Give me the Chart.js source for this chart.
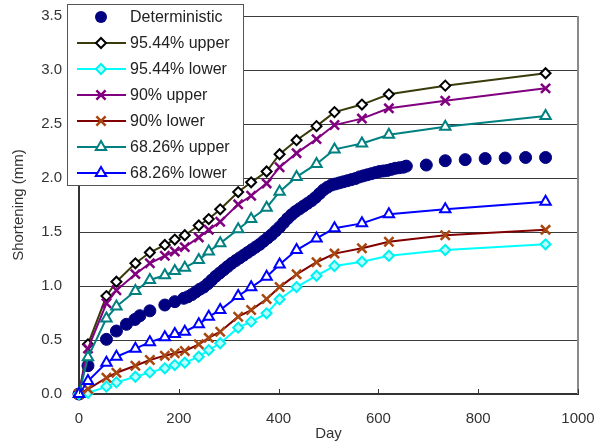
<!DOCTYPE html>
<html lang="en">
<head>
  <meta charset="UTF-8">
  <title>Shortening vs Day</title>
  <script src="https://cdn.jsdelivr.net/npm/chart.js"></script>
  <style>
    body { margin: 0; background: #fff; }
    #wrap { width: 604px; height: 446px; position: relative; }
  </style>
</head>
<body>
  <div id="wrap"><canvas id="chart" width="604" height="446"></canvas></div>

  <script>
    // days shared by the confidence band series
    const bandDays = [0, 18, 55, 75, 113, 142, 172, 192, 212, 240, 260, 283, 319, 345, 376, 402, 436, 476, 512, 567, 621, 734, 935];

    const upper9544 = [0, 0.46, 0.907, 1.04, 1.21, 1.31, 1.38, 1.43, 1.47, 1.56, 1.62, 1.71, 1.87, 1.96, 2.06, 2.22, 2.35, 2.48, 2.61, 2.68, 2.775, 2.855, 2.97];
    const lower9544 = [0, 0.01, 0.068, 0.108, 0.16, 0.20, 0.238, 0.268, 0.29, 0.345, 0.407, 0.47, 0.614, 0.67, 0.747, 0.877, 0.99, 1.095, 1.185, 1.225, 1.28, 1.333, 1.386];
    const upper90 = [0, 0.42, 0.84, 0.96, 1.11, 1.21, 1.28, 1.32, 1.36, 1.45, 1.52, 1.595, 1.756, 1.836, 1.95, 2.10, 2.23, 2.36, 2.49, 2.55, 2.645, 2.716, 2.83];
    const lower90 = [0, 0.046, 0.15, 0.197, 0.262, 0.315, 0.355, 0.377, 0.398, 0.46, 0.52, 0.577, 0.716, 0.777, 0.88, 0.99, 1.108, 1.22, 1.30, 1.35, 1.41, 1.47, 1.52];
    const upper6826 = [0, 0.34, 0.70, 0.81, 0.954, 1.056, 1.10, 1.14, 1.17, 1.24, 1.32, 1.395, 1.525, 1.62, 1.725, 1.873, 2.01, 2.13, 2.265, 2.32, 2.40, 2.475, 2.574];
    const lower6826 = [0, 0.12, 0.29, 0.345, 0.42, 0.48, 0.525, 0.555, 0.577, 0.645, 0.716, 0.777, 0.907, 0.988, 1.086, 1.20, 1.333, 1.44, 1.534, 1.58, 1.664, 1.71, 1.78];

    // deterministic run (dense output)
    const detDays = [0, 18, 55, 75, 95, 112, 122, 142, 172, 192, 210,
      218, 226, 234, 242, 250, 258, 266, 274, 282, 290, 298, 306, 314, 322, 330, 338, 346, 354, 362, 370,
      378, 386, 394, 402, 410, 418, 426, 434, 442, 450, 458, 466, 474, 482, 490, 498, 506, 514, 522, 530,
      538, 546, 554, 562, 570, 578, 586, 594, 602, 610, 618, 626, 634, 642, 650, 656,
      696, 734, 774, 814, 854, 895, 935];
    const detValues = [0, 0.262, 0.506, 0.583, 0.645, 0.69, 0.725, 0.77, 0.824, 0.855, 0.886,
      0.90, 0.92, 0.945, 0.97, 0.99, 1.02, 1.055, 1.09, 1.12, 1.15, 1.18, 1.21, 1.235, 1.26, 1.285, 1.31, 1.335, 1.36, 1.385, 1.415,
      1.445, 1.475, 1.51, 1.545, 1.585, 1.625, 1.66, 1.69, 1.715, 1.74, 1.765, 1.79, 1.82, 1.855, 1.89, 1.915, 1.935, 1.945, 1.955, 1.965,
      1.975, 1.985, 1.995, 2.01, 2.02, 2.03, 2.04, 2.05, 2.06, 2.065, 2.07, 2.08, 2.09, 2.095, 2.10, 2.11,
      2.12, 2.16, 2.17, 2.18, 2.185, 2.19, 2.19];

    const xTicks = [0, 200, 400, 600, 800, 1000];
    const yTicks = [0, 0.5, 1.0, 1.5, 2.0, 2.5, 3.0, 3.5];

    const FONT = "'Liberation Sans', Arial, sans-serif";

    function pts(xs, ys) {
      return xs.map((x, i) => ({ x: x, y: ys[i] }));
    }

    // legend entries, same styling as the datasets
    const series = [
      { label: 'Deterministic', data: pts(detDays, detValues), line: null, style: 'circle', r: 6, stroke: '#000080', fill: '#000080', lw: 1 },
      { label: '95.44% upper', data: pts(bandDays, upper9544), line: '#3a3a0a', style: 'rectRot', r: 5, stroke: '#000000', fill: '#ffffff', lw: 2 },
      { label: '95.44% lower', data: pts(bandDays, lower9544), line: '#00ffff', style: 'rectRot', r: 5, stroke: '#00f0f0', fill: '#b8ffff', lw: 2 },
      { label: '90% upper', data: pts(bandDays, upper90), line: '#800080', style: 'crossRot', r: 6.5, stroke: '#800080', fill: '#800080', lw: 2.5 },
      { label: '90% lower', data: pts(bandDays, lower90), line: '#800000', style: 'crossRot', r: 6.5, stroke: '#a8460f', fill: '#a8460f', lw: 2.5 },
      { label: '68.26% upper', data: pts(bandDays, upper6826), line: '#008080', style: 'triangle', r: 6, stroke: '#008080', fill: '#ffffff', lw: 2 },
      { label: '68.26% lower', data: pts(bandDays, lower6826), line: '#0000ff', style: 'triangle', r: 6, stroke: '#0000ff', fill: '#ffffff', lw: 2 }
    ];

    const datasets = series.map((s, i) => ({
      label: s.label,
      data: s.data,
      showLine: s.line !== null,
      borderColor: s.line || s.stroke,
      borderWidth: 2,
      pointStyle: s.style,
      pointRadius: s.r,
      pointBorderColor: s.stroke,
      pointBackgroundColor: s.fill,
      pointBorderWidth: s.lw,
      clip: 8,
      order: series.length - i
    }));

    function drawMarker(ctx, s, x, y) {
      ctx.save();
      ctx.lineWidth = s.lw;
      ctx.strokeStyle = s.stroke;
      ctx.fillStyle = s.fill;
      ctx.beginPath();
      const r = s.r;
      if (s.style === 'circle') {
        ctx.arc(x, y, r, 0, Math.PI * 2);
        ctx.fill();
      } else if (s.style === 'rectRot') {
        ctx.moveTo(x, y - r); ctx.lineTo(x + r, y); ctx.lineTo(x, y + r); ctx.lineTo(x - r, y); ctx.closePath();
        ctx.fill(); ctx.stroke();
      } else if (s.style === 'crossRot') {
        const d = r * Math.SQRT1_2;
        ctx.moveTo(x - d, y - d); ctx.lineTo(x + d, y + d);
        ctx.moveTo(x + d, y - d); ctx.lineTo(x - d, y + d);
        ctx.stroke();
      } else if (s.style === 'triangle') {
        for (let k = 0; k < 3; k++) {
          const a = k * 2 * Math.PI / 3;
          const px = x + Math.sin(a) * r, py = y - Math.cos(a) * r;
          if (k === 0) ctx.moveTo(px, py); else ctx.lineTo(px, py);
        }
        ctx.closePath();
        ctx.fill(); ctx.stroke();
      }
      ctx.restore();
    }

    const framePlugin = {
      id: 'frame',
      afterDraw(chart) {
        const ctx = chart.ctx;
        const area = chart.chartArea;
        const xs = chart.scales.x;

        // right border
        ctx.save();
        ctx.strokeStyle = '#8a8a8a';
        ctx.lineWidth = 2;
        ctx.beginPath();
        ctx.moveTo(area.right, area.top);
        ctx.lineTo(area.right, area.bottom);
        ctx.stroke();

        // inward tick marks on the x axis
        ctx.strokeStyle = '#333';
        ctx.lineWidth = 1;
        xTicks.forEach(v => {
          const px = Math.round(xs.getPixelForValue(v)) + 0.5;
          ctx.beginPath();
          ctx.moveTo(px, area.bottom);
          ctx.lineTo(px, area.bottom - 5);
          ctx.stroke();
        });

        // legend box
        const bx = 67, by = 4, bw = 176, bh = 181;
        ctx.fillStyle = '#ffffff';
        ctx.fillRect(bx, by, bw, bh);
        ctx.strokeStyle = '#555';
        ctx.lineWidth = 1;
        ctx.strokeRect(bx + 0.5, by + 0.5, bw, bh);

        ctx.font = '16px ' + FONT;
        ctx.textBaseline = 'middle';
        ctx.textAlign = 'left';
        series.forEach((s, i) => {
          const y = 17 + i * 26;
          if (s.line) {
            ctx.strokeStyle = s.line;
            ctx.lineWidth = 2;
            ctx.beginPath();
            ctx.moveTo(77, y);
            ctx.lineTo(126, y);
            ctx.stroke();
          }
          drawMarker(ctx, s, 101, y);
          ctx.fillStyle = '#222';
          ctx.fillText(s.label, 130, y + 1);
        });
        ctx.restore();
      }
    };

    new Chart(document.getElementById('chart'), {
      type: 'scatter',
      data: { datasets },
      options: {
        responsive: false,
        devicePixelRatio: 1,
        animation: false,
        layout: { autoPadding: false, padding: { top: 16, right: 26, left: 0, bottom: 0 } },
        plugins: {
          legend: { display: false },
          tooltip: { enabled: false }
        },
        scales: {
          x: {
            type: 'linear',
            min: 0,
            max: 1000,
            afterBuildTicks: scale => { scale.ticks = xTicks.map(v => ({ value: v })); },
            afterFit: scale => {
              scale.height = 52;
              scale.paddingLeft = 0;
              scale.paddingRight = 0;
            },
            grid: { display: true, drawOnChartArea: false, drawTicks: false },
            border: { color: '#333', width: 2 },
            ticks: { color: '#333', font: { size: 15, family: FONT }, padding: 16, maxRotation: 0, callback: v => String(v) },
            title: { display: true, text: 'Day', color: '#333', font: { size: 15, family: FONT }, padding: { top: 0, bottom: 3 } }
          },
          y: {
            type: 'linear',
            min: 0,
            max: 3.5,
            afterBuildTicks: scale => { scale.ticks = yTicks.map(v => ({ value: v })); },
            afterFit: scale => {
              scale.width = 79;
              scale.paddingTop = 0;
              scale.paddingBottom = 0;
            },
            grid: { color: '#3a3a3a', lineWidth: 1, drawTicks: false },
            border: { color: '#333', width: 2 },
            ticks: { color: '#333', font: { size: 15, family: FONT }, padding: 17, callback: v => v.toFixed(1) },
            title: { display: true, text: 'Shortening (mm)', color: '#333', font: { size: 15, family: FONT }, padding: { top: 10, bottom: 0 } }
          }
        }
      },
      plugins: [framePlugin]
    });
  </script>
</body>
</html>
